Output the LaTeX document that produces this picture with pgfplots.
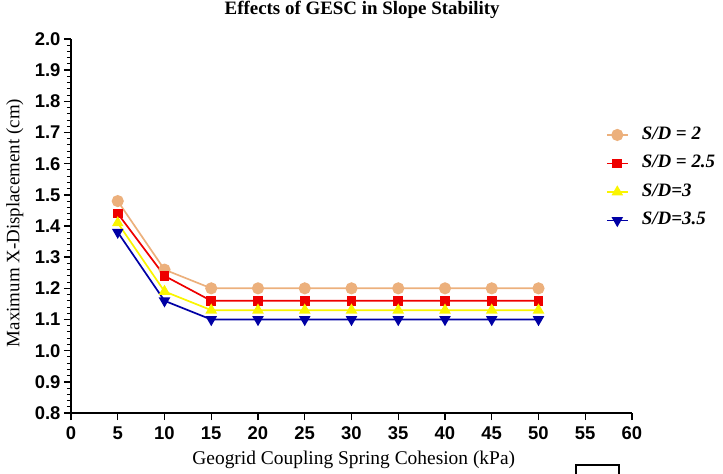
\documentclass[border=0pt]{standalone}
\usepackage{fontspec}
\setmainfont{Liberation Serif}
\setsansfont{Liberation Sans}
\usepackage{pgfplots}
\pgfplotsset{compat=1.18}
\definecolor{cOr}{RGB}{236,176,124}
\definecolor{cRd}{RGB}{238,0,0}
\definecolor{cYl}{RGB}{250,245,0}
\definecolor{cBl}{RGB}{0,0,165}

\begin{document}
\begin{tikzpicture}
\useasboundingbox (-71bp,-61bp) rectangle (652bp,413bp);
\begin{axis}[
  at={(0,0)}, anchor=south west,
  scale only axis, width=561bp, height=374bp,
  xmin=0, xmax=60, ymin=0.8, ymax=2.0,
  axis lines=left, axis line style={-, line width=1.6bp},
  xtick={0,5,10,15,20,25,30,35,40,45,50,55,60},
  ytick={0.8,0.9,1.0,1.1,1.2,1.3,1.4,1.5,1.6,1.7,1.8,1.9,2.0},
  minor y tick num=4,
  tick align=outside, major tick length=7bp, minor tick length=4bp,
  major tick style={line width=1.4bp, black},
  minor tick style={line width=1bp, black},
  ticklabel style={font=\fontsize{18.5}{20}\selectfont\sffamily\bfseries},
  xticklabel style={yshift=-3bp},
  /pgf/number format/assume math mode=true,
  yticklabel style={/pgf/number format/.cd, fixed, fixed zerofill, precision=1},
  xlabel={Geogrid Coupling Spring Cohesion (kPa)},
  xlabel style={font=\fontsize{19.5}{21}\selectfont, at={(axis description cs:0.504,0)}, anchor=north, inner sep=0pt, yshift=-38bp},
  ylabel={Maximum X-Displacement (cm)},
  ylabel style={font=\fontsize{19}{21}\selectfont, at={(axis description cs:-0.1,0.508)}, anchor=center, inner sep=0pt},
  title={Effects of GESC in Slope Stability},
  title style={font=\fontsize{19}{21}\selectfont\bfseries, at={(axis description cs:0.519,1.062)}, anchor=center, inner sep=0pt},
  legend style={at={(axis description cs:0.948,0.772)}, anchor=north west, draw=none, fill=none,
    font=\fontsize{19}{21}\selectfont\bfseries\itshape, row sep=11.5bp,
    nodes={inner sep=0pt, text height=13bp, text depth=4bp}},
  legend cell align=left,
  legend image code/.code={
    \path[draw=none, fill=none] (0bp,0bp) -- (35bp,0bp);
    \draw[#1, line width=1.6bp, mark=none] (0bp,0bp) -- (21bp,0bp);
    \draw[#1] plot coordinates {(10.5bp,0bp)};
  },
  every axis plot/.append style={line width=1.7bp},
]
\addplot[color=cOr, mark=*, mark size=5.2bp, mark options={solid, fill=cOr, draw=cOr}] coordinates {
  (5,1.48) (10,1.26) (15,1.20) (20,1.20) (25,1.20) (30,1.20) (35,1.20) (40,1.20) (45,1.20) (50,1.20)};
\addlegendentry{S/D = 2}
\addplot[color=cRd, mark=square*, mark size=4bp, mark options={solid, fill=cRd, draw=cRd}] coordinates {
  (5,1.44) (10,1.24) (15,1.16) (20,1.16) (25,1.16) (30,1.16) (35,1.16) (40,1.16) (45,1.16) (50,1.16)};
\addlegendentry{S/D = 2.5}
\addplot[color=cYl, mark=triangle*, mark size=5bp, mark options={solid, fill=cYl, draw=cYl}] coordinates {
  (5,1.41) (10,1.19) (15,1.13) (20,1.13) (25,1.13) (30,1.13) (35,1.13) (40,1.13) (45,1.13) (50,1.13)};
\addlegendentry{S/D=3}
\addplot[color=cBl, mark=triangle*, mark size=5bp, mark options={solid, fill=cBl, draw=cBl, rotate=180}] coordinates {
  (5,1.38) (10,1.16) (15,1.10) (20,1.10) (25,1.10) (30,1.10) (35,1.10) (40,1.10) (45,1.10) (50,1.10)};
\addlegendentry{S/D=3.5}
\end{axis}
\draw[line width=1.2bp] (505bp,-75bp) -- (505bp,-52bp) -- (548bp,-52bp) -- (548bp,-75bp);
\end{tikzpicture}
\end{document}
